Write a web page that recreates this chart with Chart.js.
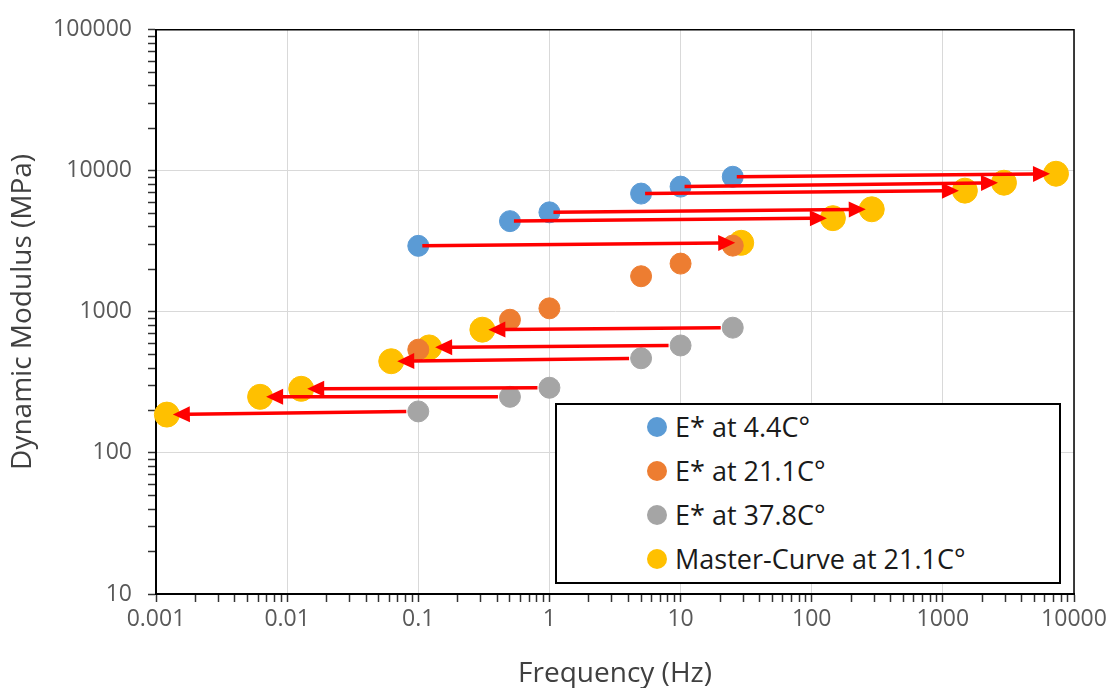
<!DOCTYPE html>
<html>
<head>
<meta charset="utf-8">
<script src="https://cdn.jsdelivr.net/npm/chart.js@4.4.0/dist/chart.umd.min.js"></script>
<style>
  html, body { margin: 0; padding: 0; background: #fff; }
  #wrap { position: relative; width: 1112px; height: 688px; }
  #legend {
    position: absolute; left: 555px; top: 403px; width: 506px; height: 181px;
    box-sizing: border-box; border: 2px solid #000; background: #fff;
    font-family: 'Open Sans', sans-serif; font-size: 27px; color: #1a1a1a;
  }
  .row { position: relative; height: 44px; line-height: 44px; padding-left: 118px; white-space: nowrap; }
  .dot { position: absolute; left: 90px; top: 12px; width: 20px; height: 20px; border-radius: 50%; }
</style>
</head>
<body>
<div id="wrap">
  <canvas id="chart" width="1112" height="688"></canvas>
  <div id="legend"></div>
</div>
<script>
// Measured frequencies (Hz) and E* values (MPa)
const freqHz = [0.1, 0.5, 1, 5, 10, 25];
const modulus44 = [2940, 4400, 5080, 6900, 7730, 9080];
const modulus211 = [540, 880, 1060, 1790, 2200, 2950];
const modulus378 = [197, 250, 290, 469, 578, 773];

// Shifted points (master curve at 21.1C)
const masterFreq = [0.00121, 0.00622, 0.0128, 0.0622, 0.121, 0.308, 29, 145, 287, 1472, 2924, 7290];
const masterModulus = [187, 250, 285, 447, 560, 748, 3090, 4620, 5340, 7240, 8240, 9540];

// index in master curve that each measured point is shifted to
const shift44To = [6, 7, 8, 9, 10, 11];
const shift378To = [0, 1, 2, 3, 4, 5];

const seriesLabels = ['E* at 4.4C°', 'E* at 21.1C°', 'E* at 37.8C°', 'Master-Curve at 21.1C°'];
const seriesColors = ['#5B9BD5', '#ED7D31', '#A5A5A5', '#FFC000'];

const xDecades = [0.001, 0.01, 0.1, 1, 10, 100, 1000, 10000];
const xTickLabels = ['0.001', '0.01', '0.1', '1', '10', '100', '1000', '10000'];
const yDecades = [10, 100, 1000, 10000, 100000];
const yTickLabels = ['10', '100', '1000', '10000', '100000'];

function logTicks(decades, labels) {
  const out = [];
  for (let i = 0; i < decades.length - 1; i++) {
    out.push({ value: decades[i], lbl: labels[i] });
    for (let m = 2; m <= 9; m++) out.push({ value: m * decades[i] });
  }
  out.push({ value: decades[decades.length - 1], lbl: labels[labels.length - 1] });
  return out;
}

function pts(xs, ys) {
  return xs.map((v, i) => ({ x: v, y: ys[i] }));
}

const shiftArrows = {
  id: 'shiftArrows',
  beforeDatasetsDraw(chart) {
    // top and right frame of the plot area
    const { ctx, chartArea: a } = chart;
    ctx.save();
    ctx.strokeStyle = '#000';
    ctx.lineWidth = 1.5;
    ctx.beginPath();
    ctx.moveTo(a.left, a.top);
    ctx.lineTo(a.right, a.top);
    ctx.lineTo(a.right, a.bottom);
    ctx.stroke();
    ctx.restore();
  },
  afterDatasetsDraw(chart) {
    const { ctx, scales: { x, y } } = chart;
    ctx.save();
    ctx.strokeStyle = '#FF0000';
    ctx.fillStyle = '#FF0000';
    ctx.lineWidth = 3.5;
    function arrow(fx, fy, tx, ty, gap) {
      const x0 = x.getPixelForValue(fx), y0 = y.getPixelForValue(fy);
      const x1 = x.getPixelForValue(tx), y1 = y.getPixelForValue(ty);
      const ang = Math.atan2(y1 - y0, x1 - x0);
      const c = Math.cos(ang), s = Math.sin(ang);
      const sx = x0 + c * gap, sy = y0 + s * gap;
      const ex = x1 - c * 6, ey = y1 - s * 6;
      const hl = 17, hw = 8;
      const bx = ex - c * hl, by = ey - s * hl;
      ctx.beginPath();
      ctx.moveTo(sx, sy);
      ctx.lineTo(bx + c * 2, by + s * 2);
      ctx.stroke();
      ctx.beginPath();
      ctx.moveTo(ex, ey);
      ctx.lineTo(bx - s * hw, by + c * hw);
      ctx.lineTo(bx + s * hw, by - c * hw);
      ctx.closePath();
      ctx.fill();
    }
    freqHz.forEach((f, i) => {
      const j = shift44To[i];
      arrow(f, modulus44[i], masterFreq[j], masterModulus[j], 4);
    });
    freqHz.forEach((f, i) => {
      const j = shift378To[i];
      arrow(f, modulus378[i], masterFreq[j], masterModulus[j], 12);
    });
    ctx.restore();
  }
};

const tickFont = { family: 'Open Sans', size: 23 };
const titleFont = { family: 'Open Sans', size: 28, lineHeight: 1 };

const chart = new Chart(document.getElementById('chart'), {
  type: 'scatter',
  data: {
    datasets: [
      { label: seriesLabels[0], data: pts(freqHz, modulus44), pointRadius: 10.5 },
      { label: seriesLabels[1], data: pts(freqHz, modulus211), pointRadius: 10.5 },
      { label: seriesLabels[2], data: pts(freqHz, modulus378), pointRadius: 10.5 },
      { label: seriesLabels[3], data: pts(masterFreq, masterModulus), pointRadius: 12.5 }
    ].map((d, i) => Object.assign(d, {
      backgroundColor: seriesColors[i],
      borderColor: seriesColors[i],
      borderWidth: 1,
      pointHoverRadius: d.pointRadius,
      clip: false
    }))
  },
  options: {
    responsive: false,
    animation: false,
    layout: { padding: { left: 0, top: 23, right: 38, bottom: 0 } },
    plugins: { legend: { display: false }, tooltip: { enabled: false } },
    scales: {
      x: {
        type: 'logarithmic',
        position: 'bottom',
        min: 0.001,
        max: 10000,
        afterBuildTicks: s => { s.ticks = logTicks(xDecades, xTickLabels); },
        afterFit: s => { s.height = 94; },
        ticks: {
          autoSkip: false, maxRotation: 0, padding: 4,
          color: '#595959', font: tickFont,
          callback: (v, i, t) => t[i].lbl || ''
        },
        grid: {
          color: c => (c.tick && c.tick.lbl ? '#d9d9d9' : 'rgba(0,0,0,0)'),
          lineWidth: 1,
          tickColor: '#333',
          tickLength: 8,
          tickWidth: 1.5
        },
        border: { color: '#000', width: 2 },
        title: { display: true, text: 'Frequency (Hz)', color: '#404040', font: titleFont, padding: { top: 0, bottom: 0 } }
      },
      y: {
        type: 'logarithmic',
        position: 'left',
        min: 10,
        max: 100000,
        afterBuildTicks: s => { s.ticks = logTicks(yDecades, yTickLabels); },
        afterFit: s => { s.width = 156; },
        ticks: {
          autoSkip: false, padding: 16,
          color: '#595959', font: tickFont,
          callback: (v, i, t) => t[i].lbl || ''
        },
        grid: {
          color: c => (c.tick && c.tick.lbl ? '#d9d9d9' : 'rgba(0,0,0,0)'),
          lineWidth: 1,
          tickColor: '#333',
          tickLength: 8,
          tickWidth: 1.5
        },
        border: { color: '#000', width: 2 },
        title: { display: true, text: 'Dynamic Modulus (MPa)', color: '#404040', font: titleFont, padding: { top: 9, bottom: 0 } }
      }
    }
  },
  plugins: [shiftArrows]
});

// legend box drawn as html over the plot
const legendEl = document.getElementById('legend');
chart.data.datasets.forEach(ds => {
  const row = document.createElement('div');
  row.className = 'row';
  row.innerHTML = '<span class="dot" style="background:' + ds.backgroundColor + '"></span>' + ds.label;
  legendEl.appendChild(row);
});
</script>
</body>
</html>
